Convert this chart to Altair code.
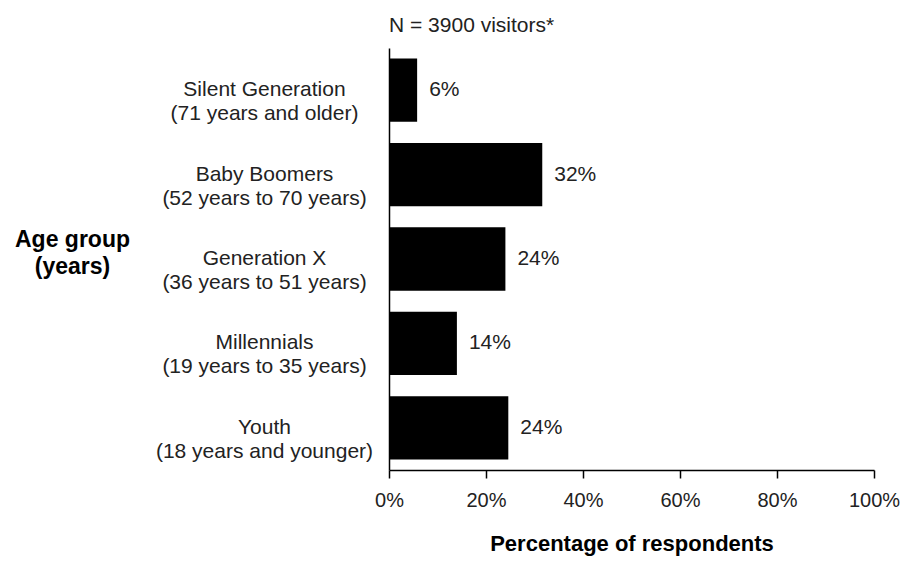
import altair as alt
import pandas as pd

groups = [
    "Silent Generation\n(71 years and older)",
    "Baby Boomers\n(52 years to 70 years)",
    "Generation X\n(36 years to 51 years)",
    "Millennials\n(19 years to 35 years)",
    "Youth\n(18 years and younger)",
]
values = [5.8, 31.6, 24.0, 14.0, 24.6]
labels = ["6%", "32%", "24%", "14%", "24%"]

df = pd.DataFrame({"group": groups, "value": values, "label": labels})

FONT = "Liberation Sans"

y_enc = alt.Y(
    "group:N",
    sort=groups,
    scale=alt.Scale(paddingInner=0.25, paddingOuter=0.125),
    axis=alt.Axis(
        title=["Age group", "(years)"],
        titleAngle=0,
        titleFont=FONT,
        titleFontSize=23,
        titleFontWeight="bold",
        titleColor="#000",
        titleAlign="center",
        titleBaseline="middle",
        titleLineHeight=27,
        titleX=-317,
        titleY=191,
        labelFont=FONT,
        labelFontSize=21,
        labelColor="#222",
        labelAlign="center",
        labelPadding=125,
        labelLineHeight=24,
        labelLimit=400,
        labelExpr="split(datum.value, '\\n')",
        ticks=False,
        domainColor="#000",
        domainWidth=1.5,
        grid=False,
    ),
)

x_enc = alt.X(
    "value:Q",
    scale=alt.Scale(domain=[0, 100]),
    axis=alt.Axis(
        title="Percentage of respondents",
        titleFont=FONT,
        titleFontSize=22,
        titleFontWeight="bold",
        titleColor="#000",
        titleBaseline="middle",
        titleY=73,
        values=[0, 20, 40, 60, 80, 100],
        labelExpr="datum.value + '%'",
        labelFont=FONT,
        labelFontSize=20,
        labelColor="#222",
        labelPadding=12,
        tickSize=8,
        tickColor="#000",
        tickWidth=1.5,
        domainColor="#000",
        domainWidth=1.5,
        grid=False,
        labelFlush=False,
    ),
)

bars = alt.Chart(df).mark_bar(color="#000").encode(y=y_enc, x=x_enc)

text = alt.Chart(df).mark_text(
    align="left", baseline="middle", dx=12, font=FONT, fontSize=21, color="#222"
).encode(y=alt.Y("group:N", sort=groups), x="value:Q", text="label:N")

chart = (
    alt.layer(bars, text)
    .properties(
        width=485,
        height=422,
        autosize=alt.AutoSizeParams(type="none"),
        padding={"left": 381, "top": 40, "right": 26, "bottom": 86},
        title=alt.TitleParams(
            "N = 3900 visitors*",
            anchor="start",
            font=FONT,
            fontSize=21,
            fontWeight="normal",
            color="#222",
            offset=12,
            frame="group",
        ),
    )
    .configure_view(stroke=None)
)

chart.save("out.html", embed_options={"renderer": "svg", "actions": False})
